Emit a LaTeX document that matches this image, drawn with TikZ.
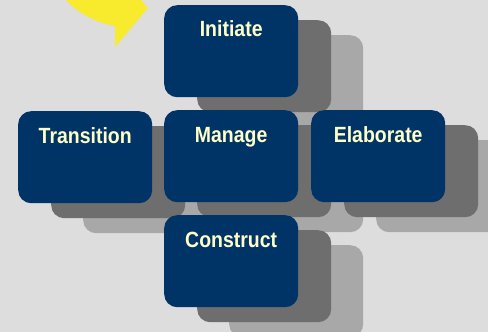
\documentclass[tikz,border=0pt]{standalone}
\usepackage{fontspec}
\setmainfont[FakeStretch=0.885]{Liberation Sans}
\definecolor{bg}{RGB}{221,221,221}
\definecolor{navy}{RGB}{0,51,102}
\definecolor{darksh}{RGB}{110,110,110}
\definecolor{lightsh}{RGB}{168,168,168}
\definecolor{cream}{RGB}{255,255,200}
\definecolor{yel}{RGB}{248,234,44}
\tikzset{
  boxbase/.style={minimum width=134pt, minimum height=92pt, rounded corners=13pt, inner sep=0pt, anchor=north west},
  box/.style={boxbase, fill=navy},
  dsh/.style={boxbase, fill=darksh},
  lsh/.style={boxbase, fill=lightsh},
  lbl/.style={text=cream, font=\fontsize{22}{24}\selectfont\bfseries, anchor=base, inner sep=0pt}
}
\begin{document}
\begin{tikzpicture}[x=1pt,y=-1pt]
\fill[bg] (0,0) rectangle (488,332);
\useasboundingbox (0,0) rectangle (488,332);
% yellow arrow tip
\fill[yel] (66,0) .. controls (80,15) and (98,23) .. (115,26) -- (115,47) -- (148,8) -- (141,0) -- cycle;
% light shadows
\node[lsh] (ils) at (229,35) {};
\node[lsh] (tls) at (83,141) {};
\node[lsh] (mls) at (229,140) {};
\node[lsh] (els) at (376,140) {};
\node[lsh] (cls) at (229,245) {};
% dark shadows
\node[dsh] (ids) at (197,20) {};
\node[dsh] (tds) at (51,126) {};
\node[dsh] (mds) at (197,125) {};
\node[dsh] (eds) at (344,125) {};
\node[dsh] (cds) at (197,230) {};
% boxes
\node[box] (init) at (164,5) {};
\node[box] (trans) at (18,111) {};
\node[box] (man) at (164,110) {};
\node[box] (elab) at (311,110) {};
\node[box] (cons) at (164,215) {};
% labels
\node[lbl] (tinit) at ([yshift=-31pt]init.north) {Initiate};
\node[lbl] (ttrans) at ([yshift=-32pt]trans.north) {Transition};
\node[lbl] (tman) at ([yshift=-32pt]man.north) {Manage};
\node[lbl] (telab) at ([yshift=-32pt]elab.north) {Elaborate};
\node[lbl] (tcons) at ([yshift=-32pt]cons.north) {Construct};
\end{tikzpicture}
\end{document}
